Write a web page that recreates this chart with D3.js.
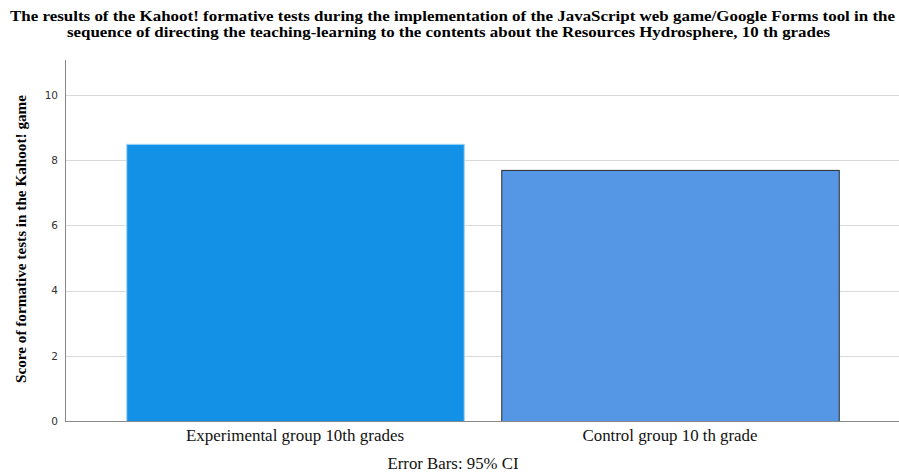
<!DOCTYPE html>
<html><head><meta charset="utf-8">
<script src="https://cdn.jsdelivr.net/npm/d3@7"></script>
<style>body{margin:0;background:#fff}</style>
</head><body><svg id="c" width="899" height="475"></svg>
<script>
const categories = ["Experimental group 10th grades", "Control group 10 th grade"];
const values = [8.5, 7.7];
const yTicks = [0, 2, 4, 6, 8, 10];
const titleLines = ["The results of the Kahoot! formative tests during the implementation of the JavaScript web game/Google Forms tool in the",
  "sequence of directing the teaching-learning to the contents about the Resources Hydrosphere, 10 th grades"];
const yLabel = "Score of formative tests in the Kahoot! game";
const footer = "Error Bars: 95% CI";
const fills = ["#1391e7", "#5597e5"];
const strokes = ["#9fd3f7", "#2a2a2a"];

(function () {
const svg = d3.select("#c");
const mLeft = 65, mRight = 899, mTop = 60, mBottom = 421;
const y = d3.scaleLinear().domain([0, 11.07]).range([mBottom, mTop]);
const x = d3.scaleBand().domain(categories).range([107.5, 857.5]).paddingInner(0.1).paddingOuter(0.05);

svg.append("g").selectAll("line").data(yTicks.filter(d => d > 0)).join("line")
  .attr("x1", mLeft).attr("x2", mRight).attr("y1", d => Math.round(y(d)) + 0.5).attr("y2", d => Math.round(y(d)) + 0.5)
  .attr("stroke", "#d9d9d9").attr("stroke-width", 1);

svg.append("g").selectAll("rect").data(categories).join("rect")
  .attr("x", d => x(d) + 0.5).attr("y", (d, i) => y(values[i]) + 0.5)
  .attr("width", x.bandwidth()).attr("height", (d, i) => mBottom - y(values[i]))
  .attr("fill", (d, i) => fills[i]).attr("stroke", (d, i) => strokes[i]).attr("stroke-width", 1);

const yAxis = svg.append("g").attr("transform", `translate(${mLeft},0)`)
  .call(d3.axisLeft(y).tickValues(yTicks).tickSize(0).tickPadding(7));
yAxis.select(".domain").attr("stroke", "#888").attr("d", `M0.5,${mTop}V${mBottom}`);
yAxis.selectAll("text").attr("font-family", "DejaVu Sans").attr("font-size", 10.5).attr("fill", "#333");

const labelW = [218, 175];
const xAxis = svg.append("g").attr("transform", `translate(0,${mBottom})`)
  .call(d3.axisBottom(x).tickSize(0).tickPadding(9));
xAxis.select(".domain").attr("stroke", "#888").attr("d", `M${mLeft},0.5H${mRight}`);
xAxis.selectAll("text").attr("font-family", "Liberation Serif").attr("font-size", 16).attr("fill", "#111")
  .attr("textLength", (d, i) => labelW[i]).attr("lengthAdjust", "spacingAndGlyphs");

const titleW = [885, 763];
svg.append("g").selectAll("text").data(titleLines).join("text")
  .attr("x", (d, i) => i === 0 ? 10 : 67).attr("y", (d, i) => 21 + i * 16)
  .attr("font-family", "Liberation Serif").attr("font-weight", "bold")
  .attr("font-size", 15.5).attr("fill", "#000")
  .attr("textLength", (d, i) => titleW[i]).attr("lengthAdjust", "spacingAndGlyphs").text(d => d);

svg.append("text").attr("transform", "translate(26,239) rotate(-90)")
  .attr("text-anchor", "middle").attr("font-family", "Liberation Serif").attr("font-weight", "bold")
  .attr("font-size", 15.5).attr("fill", "#000")
  .attr("textLength", 288).attr("lengthAdjust", "spacingAndGlyphs").text(yLabel);

svg.append("text").attr("x", 453).attr("y", 469).attr("text-anchor", "middle")
  .attr("font-family", "Liberation Serif").attr("font-size", 16).attr("fill", "#111")
  .attr("textLength", 131).attr("lengthAdjust", "spacingAndGlyphs").text(footer);
})();
</script></body></html>
